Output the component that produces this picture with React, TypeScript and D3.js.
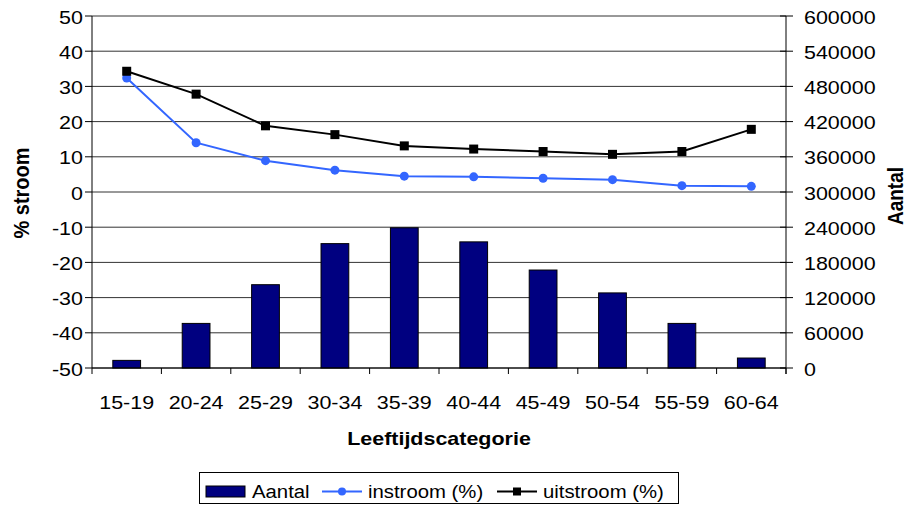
import * as d3 from 'd3';

const categories = ['15-19', '20-24', '25-29', '30-34', '35-39', '40-44', '45-49', '50-54', '55-59', '60-64'];
const aantal = [13000, 76000, 142000, 212000, 239000, 215000, 167000, 128000, 76000, 17000];
const instroom = [32.4, 14.0, 8.9, 6.2, 4.5, 4.3, 3.9, 3.5, 1.8, 1.6];
const uitstroom = [34.3, 27.8, 18.8, 16.3, 13.1, 12.2, 11.5, 10.7, 11.5, 17.8];
const leftTicks = [-50, -40, -30, -20, -10, 0, 10, 20, 30, 40, 50];
const rightTicks = [0, 60000, 120000, 180000, 240000, 300000, 360000, 420000, 480000, 540000, 600000];

const W = 907;
const H = 505;
const plot = { left: 92, right: 786, top: 16, bottom: 368 };
const SX = 1.13; // source picture is a bit stretched horizontally
const FONT = '"Liberation Sans", Arial, sans-serif';
const BLUE = '#3366ff';
const NAVY = '#000080';

function Label({ x, y, anchor = 'start', size = 19, bold = false, rotate = false, children }: any) {
  const tf = rotate
    ? `translate(${x},${y}) rotate(-90) scale(1,${SX})`
    : `translate(${x},${y}) scale(${SX},1)`;
  return (
    <text transform={tf} textAnchor={anchor} fontSize={size} fontWeight={bold ? 'bold' : 'normal'} fill="#000">
      {children}
    </text>
  );
}

export default function App() {
  const x = d3.scaleBand<string>().domain(categories).range([plot.left, plot.right]).padding(0);
  const bw = x.bandwidth() * 0.4;
  const cx = (i: number) => (x(categories[i]) ?? 0) + x.bandwidth() / 2;
  const yL = d3.scaleLinear().domain([-50, 50]).range([plot.bottom, plot.top]);
  const yR = d3.scaleLinear().domain([0, 600000]).range([plot.bottom, plot.top]);

  const line = d3.line<number>().x((_, i) => cx(i)).y((d) => yL(d));

  return (
    <svg width={W} height={H} style={{ position: 'absolute', left: 0, top: 0, background: '#fff' }} fontFamily={FONT}>
      {/* gridlines */}
      {leftTicks.map((t) => (
        <line key={'g' + t} x1={plot.left} x2={plot.right} y1={yL(t)} y2={yL(t)} stroke="#333" strokeWidth={1} />
      ))}

      {/* bars */}
      {aantal.map((v, i) => (
        <rect key={'b' + i} x={cx(i) - bw / 2} y={yR(v)} width={bw} height={yR(0) - yR(v)} fill={NAVY} stroke="#000" strokeWidth={1} />
      ))}

      {/* left axis */}
      <line x1={plot.left} x2={plot.left} y1={plot.top} y2={plot.bottom} stroke="#000" />
      {leftTicks.map((t) => (
        <g key={'l' + t}>
          <line x1={plot.left - 7} x2={plot.left} y1={yL(t)} y2={yL(t)} stroke="#000" />
          <Label x={83} y={yL(t) + 7.5} anchor="end">{t}</Label>
        </g>
      ))}

      {/* right axis */}
      <line x1={plot.right} x2={plot.right} y1={plot.top} y2={plot.bottom + 6} stroke="#000" />
      {rightTicks.map((t) => (
        <g key={'r' + t}>
          <line x1={plot.right - 6} x2={plot.right + 7} y1={yR(t)} y2={yR(t)} stroke="#000" />
          <Label x={804} y={yR(t) + 7.5}>{t}</Label>
        </g>
      ))}

      {/* bottom axis */}
      <line x1={plot.left} x2={plot.right} y1={plot.bottom} y2={plot.bottom} stroke="#000" />
      {categories.map((c, i) => (
        <g key={'c' + c}>
          <line x1={x(c)} x2={x(c)} y1={plot.bottom} y2={plot.bottom + 6} stroke="#000" />
          <Label x={cx(i)} y={409} anchor="middle">{c}</Label>
        </g>
      ))}
      <line x1={plot.right} x2={plot.right} y1={plot.bottom} y2={plot.bottom + 6} stroke="#000" />

      {/* series lines */}
      <path d={line(instroom) ?? ''} fill="none" stroke={BLUE} strokeWidth={2} />
      {instroom.map((v, i) => (
        <circle key={'i' + i} cx={cx(i)} cy={yL(v)} r={4.5} fill={BLUE} />
      ))}
      <path d={line(uitstroom) ?? ''} fill="none" stroke="#000" strokeWidth={2} />
      {uitstroom.map((v, i) => (
        <rect key={'u' + i} x={cx(i) - 4.5} y={yL(v) - 4.5} width={9} height={9} fill="#000" />
      ))}

      {/* axis titles */}
      <Label x={29} y={193} anchor="middle" size={20} bold rotate>% stroom</Label>
      <Label x={903} y={196} anchor="middle" bold rotate>Aantal</Label>
      <Label x={(plot.left + plot.right) / 2} y={445} anchor="middle" bold>Leeftijdscategorie</Label>

      {/* legend */}
      <rect x={199.5} y={472.5} width={479} height={31} fill="#fff" stroke="#000" />
      <rect x={206} y={486} width={39} height={11} fill={NAVY} stroke="#000" />
      <Label x={252} y={498} size={18}>Aantal</Label>
      <line x1={322} x2={362} y1={491.5} y2={491.5} stroke={BLUE} strokeWidth={2} />
      <circle cx={342} cy={491.5} r={4} fill={BLUE} />
      <Label x={368} y={498} size={18}>instroom (%)</Label>
      <line x1={497} x2={537} y1={491.5} y2={491.5} stroke="#000" strokeWidth={2} />
      <rect x={513} y={487.5} width={8} height={8} fill="#000" />
      <Label x={543} y={498} size={18}>uitstroom (%)</Label>
    </svg>
  );
}
